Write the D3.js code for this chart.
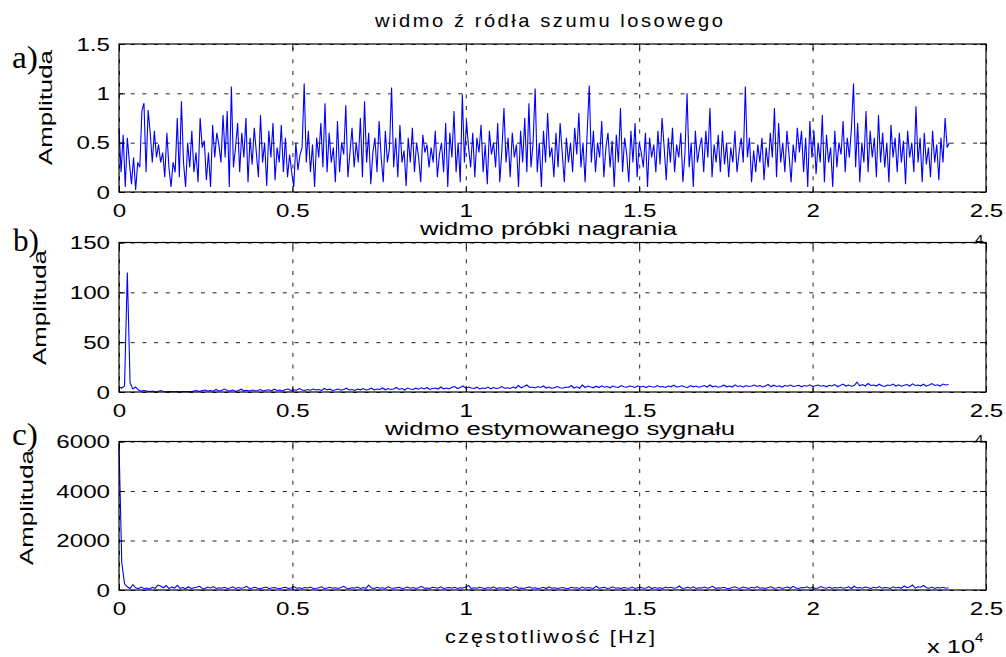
<!DOCTYPE html>
<html><head><meta charset="utf-8">
<script src="https://cdn.jsdelivr.net/npm/d3@7"></script>
<style>
body{margin:0;background:#fff}
svg{display:block}
text{font-family:"Liberation Sans",Arial,Helvetica,sans-serif;fill:#000}
</style>
</head><body>
<svg id="chart" width="1006" height="657"></svg>
<script>
// ---- data ----
const xTickValues = [0, 5000, 10000, 15000, 20000, 25000];
const xTickLabels = ["0", "0.5", "1", "1.5", "2", "2.5"];

const titleA = "widmo ź ródła szumu losowego";
const titleB = "widmo próbki nagrania";
const titleC = "widmo estymowanego sygnału";
const yLabel = "Amplituda";
const xLabel = "częstotliwość [Hz]";

const yTicksA = [0, 0.5, 1, 1.5];
const yTickLabelsA = ["0", "0.5", "1", "1.5"];
const yTicksB = [0, 50, 100, 150];
const yTickLabelsB = ["0", "50", "100", "150"];
const yTicksC = [0, 2000, 4000, 6000];
const yTickLabelsC = ["0", "2000", "4000", "6000"];

const stepA = 60;   // Hz between samples
const stepB = 80;
const stepC = 80;

const seriesA = [
0.65,0.2,0.58,0.05,0.55,0.3,0.08,0.35,0.02,0.3,0.25,0.82,0.9,0.2,0.83,0.6,0.3,0.62,0.35,0.48,
0.3,0.4,0.15,0.6,0.25,0.05,0.3,0.2,0.75,0.15,0.92,0.3,0.05,0.5,0.25,0.62,0.2,0.4,0.1,0.75,
0.45,0.52,0.12,0.4,0.05,0.68,0.35,0.6,0.48,0.3,0.78,0.35,0.82,0.05,1.07,0.25,0.45,0.7,0.2,0.6,
0.35,0.75,0.1,0.55,0.28,0.65,0.4,0.15,0.78,0.3,0.5,0.06,0.62,0.35,0.7,0.12,0.45,0.3,0.68,0.2,
0.55,0.15,0.38,0.2,0.05,0.5,0.22,0.38,0.45,1.1,0.3,0.62,0.2,0.48,0.05,0.55,0.35,0.7,0.25,0.9,
0.2,0.6,0.3,0.45,0.1,0.72,0.2,0.5,0.38,0.88,0.15,0.4,0.65,0.25,0.5,0.3,0.75,0.15,0.92,0.3,
0.6,0.08,0.4,0.55,0.2,0.72,0.35,0.1,0.62,0.3,0.45,1.06,0.25,0.55,0.15,0.68,0.3,0.42,0.06,0.55,
0.3,0.65,0.2,0.5,0.35,0.1,0.58,0.4,0.48,0.25,0.45,0.3,0.62,0.15,0.38,0.5,0.2,0.7,0.05,0.6,
0.35,0.82,0.2,0.5,0.1,0.99,0.3,0.72,0.45,0.25,0.6,0.15,0.55,0.4,0.68,0.2,0.48,0.08,0.62,0.38,
0.5,0.25,0.7,0.1,0.42,0.85,0.3,0.55,0.15,0.6,0.35,0.48,0.05,0.62,0.3,0.75,0.2,0.9,0.25,0.5,
1.05,0.2,0.5,0.05,0.62,0.3,0.8,0.35,0.45,0.15,0.6,0.25,0.7,0.4,0.1,0.55,0.3,0.5,0.2,0.65,
0.38,0.8,0.25,0.5,0.1,0.6,1.08,0.3,0.62,0.2,0.5,0.35,0.72,0.15,0.45,0.6,0.25,0.52,0.05,0.58,
0.3,0.85,0.2,0.55,0.38,0.1,0.62,0.3,0.7,0.15,0.5,0.4,0.25,0.6,0.05,0.55,0.35,0.48,0.2,0.62,
0.28,0.75,0.45,0.12,0.55,0.3,0.65,0.2,0.48,0.35,0.6,0.1,0.4,1.0,0.25,0.5,0.05,0.62,0.3,0.45,
0.55,0.2,0.62,0.35,0.85,0.15,0.48,0.3,0.58,0.2,0.62,0.28,0.5,0.15,0.45,0.3,0.62,0.2,0.4,0.55,
0.3,1.07,0.35,0.55,0.1,0.42,0.2,0.48,0.3,0.55,0.12,0.45,0.25,0.6,0.35,0.85,0.15,0.7,0.3,0.5,
0.2,0.62,0.38,0.1,0.48,0.3,0.65,0.4,0.62,0.2,0.55,0.05,0.72,0.35,0.62,0.18,0.5,0.3,0.78,0.1,
0.58,0.3,0.45,0.05,0.62,0.25,0.5,0.38,0.72,0.2,0.55,0.35,0.65,1.1,0.25,0.7,0.1,0.5,0.3,0.82,
0.2,0.62,0.35,0.55,0.15,0.78,0.3,0.6,0.25,0.5,0.1,0.68,0.35,0.55,0.2,0.6,0.3,0.52,0.08,0.62,
0.35,0.5,0.2,0.87,0.3,0.55,0.1,0.6,0.28,0.45,0.15,0.62,0.3,0.48,0.12,0.55,0.3,0.75,0.45,0.5
];

const seriesB = [
5,4,6,120,9,3,5,2,1,1.5,
1,0.5,1,0.3,0.5,1.5,0.5,0.3,0.5,0.4,0.3,0.5,0.3,0.5,0.4,0.5,0.3,1,1.5,0.5,
1.5,2,1,1.5,0.8,2.5,1,1.8,3,1.5,1,2,0.8,1.5,2.8,1.2,1.8,1,2,1.2,
1.5,2.5,1,1.8,2.2,1.3,2.8,1.5,2,1,2.5,3,1.5,2.2,1.8,3.5,2,1.5,2.5,1.8,
3,2,2.5,1.5,3.5,2,2.8,1.5,2.2,3,1.8,2.5,3.8,2,2.5,1.5,3,2.2,3.5,2,
2.5,3.8,2,3,2.5,4,2.2,3.5,2.5,3,4.5,2.5,3.5,2,4,3,2.5,3.8,2.8,4.2,
3,4.5,2.5,3.5,4,3,5,3.2,4,3,4.8,5.5,3.5,4.5,6,3.8,5,4,3.5,4.8,
3,4,3.5,5,3.2,4.5,3.5,4,5.5,3.8,4.2,3.5,5,4,6.5,4.2,5.5,7,4.5,5,
4,5.5,4.5,6,4,5,3.5,4.5,5.5,4.2,3.8,5,4.5,6.5,4,5.2,3.8,7,4.5,6,
5,4.2,5.8,4.5,6.2,4.8,5.5,4.2,6,5,4.5,6.5,5.2,4.8,6,5.5,4.5,6.2,5,5.8,
4.5,6,5.2,4.8,6.5,5,5.5,4.5,6,5.2,6.8,4.8,5.5,6.2,5,4.5,6.5,5.2,6,4.8,
5.5,6.5,5,7,5.2,6,4.8,5.5,6.8,5.2,6,5,7.2,5.5,6.2,4.8,6.5,5.5,6,7,
5.5,6.5,5,6,7.5,5.2,6.8,5.5,6.2,5,6.5,5.8,7,5.5,6,6.8,5.2,6.5,5.8,7.2,
5.5,6.2,7,5.8,6.5,5.2,6.8,6,7.5,5.5,6.5,8,6,7,5.8,6.5,10,6.2,7.5,6,
8.5,6.5,7,6,7.8,6.2,5.5,7,6.5,8,6,7.2,5.8,6.8,7.5,6,8.2,6.5,7,6.2,
7.8,5.8,7,8.5,6.5,7.2,6,8,7,7.5
];

const seriesC = [
5900,1100,250,130,60,220,90,50,120,60,80,40,110,70,200,160,90,180,60,120,
80,190,70,100,50,130,60,90,110,150,70,60,120,80,140,60,90,70,110,60,
80,130,60,100,70,90,150,60,80,110,70,50,90,120,60,80,100,70,60,90,
110,60,80,140,70,90,60,100,80,120,60,70,90,130,60,80,110,70,90,60,
100,150,70,60,90,80,120,60,100,70,200,80,60,110,70,90,60,130,80,70,
90,110,60,80,120,70,100,60,90,150,70,80,60,110,90,70,130,60,80,100,
70,110,60,90,80,120,180,60,90,70,110,80,60,100,70,130,60,90,80,70,
110,60,90,140,70,80,60,100,120,70,90,60,80,110,60,130,70,90,60,80,
100,70,60,110,80,90,60,120,70,100,80,60,150,70,90,110,60,80,130,70,
90,60,100,80,70,120,60,90,110,70,80,140,60,100,70,90,60,120,80,110,
70,90,160,60,80,110,70,130,60,90,80,120,70,100,150,60,90,80,110,70,
60,100,130,80,70,120,90,60,110,80,140,70,90,60,100,130,70,80,110,60,
90,120,70,150,80,60,100,90,130,70,110,60,80,140,90,70,120,60,100,80,
110,70,90,130,60,150,80,100,70,120,90,60,110,80,140,70,100,90,60,130,
80,110,70,160,90,120,200,80,130,110,180,90,70,120,60,100,80,110,70,90
];

// ---- layout ----
const svg = d3.select("#chart");
const X0 = 119, X1 = 986;
const x = d3.scaleLinear().domain([0, 25000]).range([X0, X1]);

const panels = [
  {series: seriesA, step: stepA, yMax: 1.5, yTicks: yTicksA, yLabels: yTickLabelsA,
   top: 44, bottom: 192, title: titleA, tX: 375, tY: 27, tW: 348, spaced: true,
   letter: "a)", lX: 12, lY: 68, yLabX: 52, yLabY: 107.5},
  {series: seriesB, step: stepB, yMax: 150, yTicks: yTicksB, yLabels: yTickLabelsB,
   top: 242.5, bottom: 392, title: titleB, tX: 420, tY: 235, tW: 257, spaced: false,
   letter: "b)", lX: 13, lY: 251, yLabX: 46, yLabY: 307.5},
  {series: seriesC, step: stepC, yMax: 6000, yTicks: yTicksC, yLabels: yTickLabelsC,
   top: 441.5, bottom: 590, title: titleC, tX: 385, tY: 435, tW: 350, spaced: false,
   letter: "c)", lX: 12, lY: 445, yLabX: 33, yLabY: 507.5}
];

const FS = 17.5;
const SX = 1.38;

panels.forEach((p, pi) => {
  const y = d3.scaleLinear().domain([0, p.yMax]).range([p.bottom, p.top]);
  const g = svg.append("g");
  const h = p.bottom - p.top;

  // white axes background (covers hidden exponent of panel above)
  g.append("rect").attr("x", X0).attr("y", p.top).attr("width", X1 - X0).attr("height", h)
    .attr("fill", "#fff");

  // grid
  const gx = g.append("g").attr("transform", `translate(0,${p.bottom})`)
    .call(d3.axisBottom(x).tickValues(xTickValues).tickSize(-h).tickFormat(""));
  const gy = g.append("g").attr("transform", `translate(${X0},0)`)
    .call(d3.axisLeft(y).tickValues(p.yTicks).tickSize(-(X1 - X0)).tickFormat(""));
  [gx, gy].forEach(s => {
    s.select(".domain").remove();
    s.selectAll("line").attr("stroke", "#222").attr("stroke-width", 1)
      .attr("stroke-dasharray", "4,7.7");
  });

  // data line
  const line = d3.line().x((d, i) => x(i * p.step)).y(d => y(d));
  g.append("path").datum(p.series).attr("d", line)
    .attr("fill", "none").attr("stroke", "#0000ff").attr("stroke-width", 1.1)
    .attr("stroke-linejoin", "miter");

  // border
  g.append("rect").attr("x", X0).attr("y", p.top).attr("width", X1 - X0).attr("height", h)
    .attr("fill", "none").attr("stroke", "#000").attr("stroke-width", 1.2);

  // axes with inward ticks
  const ab = g.append("g").attr("transform", `translate(0,${p.bottom})`)
    .call(d3.axisBottom(x).tickValues(xTickValues).tickSize(-6)
      .tickFormat((d, i) => xTickLabels[i]));
  const at = g.append("g").attr("transform", `translate(0,${p.top})`)
    .call(d3.axisTop(x).tickValues(xTickValues).tickSize(-6).tickFormat(""));
  const al = g.append("g").attr("transform", `translate(${X0},0)`)
    .call(d3.axisLeft(y).tickValues(p.yTicks).tickSize(-6)
      .tickFormat((d, i) => p.yLabels[i]));
  const ar = g.append("g").attr("transform", `translate(${X1},0)`)
    .call(d3.axisRight(y).tickValues(p.yTicks).tickSize(-6).tickFormat(""));
  [ab, at, al, ar].forEach(s => {
    s.select(".domain").remove();
    s.selectAll("line").attr("stroke", "#000").attr("stroke-width", 1);
  });
  ab.selectAll("text").attr("y", 0).attr("dy", null)
    .attr("transform", `translate(0,24.5) scale(${SX},1)`)
    .attr("font-size", FS).attr("font-family", "Liberation Sans, Arial, sans-serif")
    .attr("fill", "#000");
  al.selectAll("text").attr("x", 0).attr("dy", "0.36em")
    .attr("transform", `translate(-9,0) scale(${SX},1)`)
    .attr("font-size", FS).attr("font-family", "Liberation Sans, Arial, sans-serif")
    .attr("fill", "#000");

  // exponent label "x 10^4" (hidden under next panel for a and b)
  svg.append("text").attr("x", 927).attr("y", p.bottom + 63).attr("font-size", FS)
    .attr("textLength", 48).attr("lengthAdjust", "spacingAndGlyphs").text("x 10");
  svg.append("text").attr("x", 975).attr("y", p.bottom + 52).attr("font-size", 12.5)
    .attr("textLength", 8.5).attr("lengthAdjust", "spacingAndGlyphs").text("4");

  // title
  if (p.spaced) {
    svg.append("text").attr("transform", `translate(${p.tX},${p.tY}) scale(1.15,1)`)
      .attr("font-size", FS).attr("textLength", p.tW / 1.15).attr("lengthAdjust", "spacing")
      .text(p.title);
  } else {
    svg.append("text").attr("x", p.tX).attr("y", p.tY).attr("font-size", FS)
      .attr("textLength", p.tW).attr("lengthAdjust", "spacingAndGlyphs").text(p.title);
  }

  // y label
  svg.append("text").attr("transform", `translate(${p.yLabX},${p.yLabY}) rotate(-90)`)
    .attr("text-anchor", "middle").attr("font-size", 18)
    .attr("textLength", 115).attr("lengthAdjust", "spacingAndGlyphs").text(yLabel);

  // panel letter
  svg.append("text").attr("x", p.lX).attr("y", p.lY)
    .style("font-family", "'Liberation Serif','Times New Roman',serif")
    .attr("font-size", 31).attr("textLength", 26).attr("lengthAdjust", "spacingAndGlyphs")
    .text(p.letter);
});

// x label
svg.append("text").attr("transform", "translate(445,643) scale(1.2,1)")
  .attr("font-size", 18).attr("textLength", 210 / 1.2).attr("lengthAdjust", "spacing")
  .text(xLabel);
</script>
</body></html>
